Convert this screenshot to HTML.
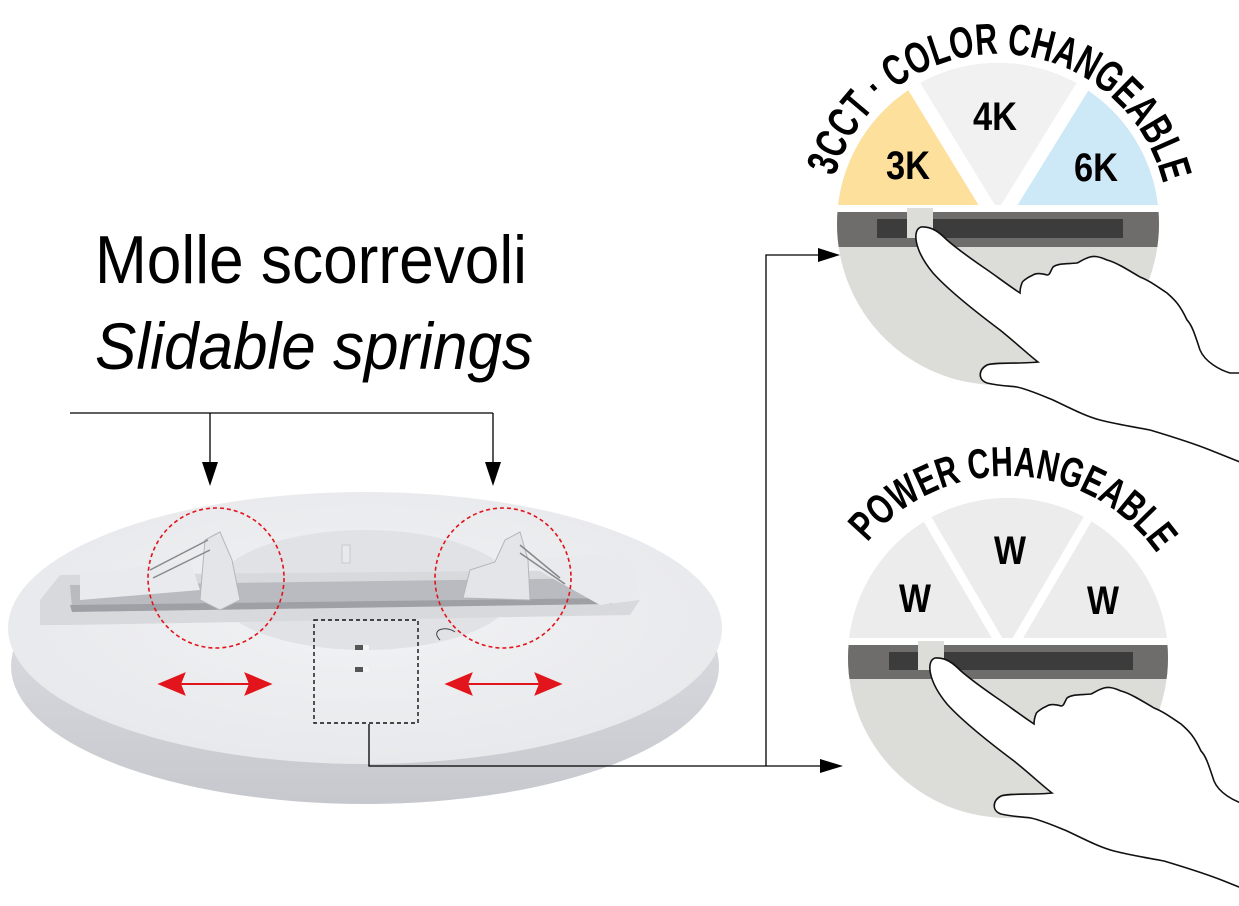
<!DOCTYPE html>
<html><head><meta charset="utf-8"><style>
html,body{margin:0;padding:0;background:#fff;}
svg{display:block;}
</style></head><body>
<svg width="1239" height="906" viewBox="0 0 1239 906" xmlns="http://www.w3.org/2000/svg">
<defs>
<linearGradient id="side" x1="0" y1="0" x2="0" y2="1">
<stop offset="0" stop-color="#e4e5e9"/><stop offset="1" stop-color="#c6c8ce"/></linearGradient>
<radialGradient id="top" cx="0.5" cy="0.45" r="0.6">
<stop offset="0" stop-color="#f1f2f4"/><stop offset="1" stop-color="#e7e8eb"/></radialGradient>
<clipPath id="c1"><circle cx="998" cy="224" r="161"/></clipPath>
<clipPath id="c2"><circle cx="1008" cy="658" r="160"/></clipPath>
<path id="arc1" d="M 828,224 A 170,170 0 0 1 1168,224"/>
<path id="arc2" d="M 826,658 A 182,182 0 0 1 1190,658"/>
<g id="hand">
<path d="M921,227 C912,230 914,250 933,273 C950,292 980,315 1000,330 C1015,342 1030,356 1038,362 C1020,364 995,362 987,365 C978,370 978,380 987,383 C1000,386 1010,386 1017,387 C1030,390 1043,396 1053,400 C1070,408 1085,416 1100,420 C1120,425 1135,427 1150,430 C1170,436 1190,442 1210,450 L1260,470 L1260,373 L1230,373 C1220,370 1205,362 1200,350 C1195,335 1192,325 1187,320 C1180,305 1175,300 1167,293 C1155,285 1148,280 1140,277 C1125,268 1115,262 1107,260 C1098,256 1094,256 1090,257 C1083,259 1080,262 1077,263 C1068,264 1058,263 1053,267 C1050,272 1050,275 1047,275 C1040,273 1036,273 1033,275 C1026,278 1022,282 1022,283 C1020,288 1020,292 1020,293 C1005,283 995,275 983,267 C970,258 955,247 947,240 C940,233 932,226 921,227 Z" fill="#fff" stroke="#111" stroke-width="1.6"/>
</g>
</defs>

<!-- Titles -->
<text x="95" y="283" font-family="Liberation Sans, sans-serif" font-size="68" textLength="432" lengthAdjust="spacingAndGlyphs" fill="#000">Molle scorrevoli</text>
<text x="95" y="369" font-family="Liberation Sans, sans-serif" font-style="italic" font-size="66" textLength="438" lengthAdjust="spacingAndGlyphs" fill="#000">Slidable springs</text>

<!-- lamp -->
<ellipse cx="365" cy="666" rx="354" ry="138" fill="url(#side)"/>
<ellipse cx="365" cy="628" rx="357" ry="136" fill="url(#top)"/>
<ellipse cx="365" cy="590" rx="150" ry="60" fill="#e1e2e6"/>
<g>
<path d="M40,600 L60,575 L630,570 L640,600 L630,615 L70,625 L40,625 Z" fill="#d8d9dd"/>
<path d="M70,585 L610,578 L612,600 L72,608 Z" fill="#b9bbc0"/>
<path d="M70,605 L612,598 L612,604 L72,612 Z" fill="#9ea0a6"/>
<path d="M80,575 L190,560 L200,590 L80,600 Z" fill="#e9eaee"/>
<path d="M520,560 L630,552 L640,600 L600,605 Z" fill="#e9eaee"/>
<path d="M200,600 L205,540 L220,532 L232,560 L240,600 L220,610 Z" fill="#e4e5e8" stroke="#b5b6ba" stroke-width="1"/>
<path d="M463,598 L470,570 L495,562 L505,540 L520,532 L528,560 L530,600 Z" fill="#e4e5e8" stroke="#b5b6ba" stroke-width="1"/>
<path d="M150,570 L208,540 M153,578 L210,550 M520,545 L560,578 M520,553 L565,584" stroke="#888" stroke-width="1.5" fill="none"/>
<rect x="342" y="545" width="8" height="18" fill="#e8e9ec" stroke="#c8c9cc"/>
</g>
<g fill="#555"><rect x="355" y="645" width="14" height="5"/><rect x="355" y="667" width="14" height="5"/></g>
<g fill="#f4f4f4"><rect x="363" y="645" width="6" height="5"/><rect x="363" y="667" width="6" height="5"/></g>
<path d="M440,640 C430,630 445,625 455,632" stroke="#444" fill="none" stroke-width="1"/>

<!-- pointer lines -->
<g stroke="#000" stroke-width="1.3" fill="none">
<path d="M70,413 H493 M210,413 V465 M493,413 V465"/>
<path d="M369,724 V766 H830 M766,766 V255 H818"/>
</g>
<g fill="#000">
<path d="M202,462 L218,462 L210,486 Z"/>
<path d="M485,462 L501,462 L493,486 Z"/>
<path d="M818,248 L840,255 L818,262 Z"/>
<path d="M820,759 L843,766 L820,773 Z"/>
</g>

<!-- red dashed ellipses -->
<g fill="none" stroke="#e2141c" stroke-width="1.6" stroke-dasharray="4,3">
<ellipse cx="216" cy="578" rx="68" ry="70"/>
<ellipse cx="503" cy="578" rx="68" ry="70"/>
</g>
<!-- red arrows -->
<g stroke="#e2141c" stroke-width="2" fill="#e2141c">
<line x1="175" y1="684" x2="255" y2="684"/>
<line x1="462" y1="684" x2="545" y2="684"/>
<path d="M160,684 L184,674 L180,684 L184,694 Z"/>
<path d="M270,684 L246,674 L250,684 L246,694 Z"/>
<path d="M447,684 L471,674 L467,684 L471,694 Z"/>
<path d="M560,684 L536,674 L540,684 L536,694 Z"/>
</g>
<!-- dashed box -->
<rect x="314" y="620" width="104" height="103" fill="none" stroke="#111" stroke-width="1.4" stroke-dasharray="4,3"/>

<!-- TOP DIAL -->
<g clip-path="url(#c1)">
<rect x="830" y="60" width="340" height="330" fill="#dcdcd8"/>
<rect x="830" y="60" width="340" height="145" fill="#f1f1f1"/>
<path d="M984,205 L895,60 L830,60 L830,205 Z" fill="#fde09c"/>
<path d="M1012,205 L1102,60 L1170,60 L1170,205 Z" fill="#cde8f7"/>
<path d="M991,212 L898,60 M1005,212 L1099,60" stroke="#fff" stroke-width="14"/>
<rect x="830" y="205" width="340" height="7" fill="#fff"/>
<rect x="830" y="212" width="340" height="35" fill="#6e6d6b"/>
<rect x="877" y="219" width="246" height="19" fill="#3c3c3c"/>
<rect x="907" y="208" width="26" height="30" fill="#dcdcd8"/>
</g>
<g font-family="Liberation Sans, sans-serif" font-weight="bold" font-size="40" fill="#000" text-anchor="middle">
<text x="908" y="179" textLength="44" lengthAdjust="spacingAndGlyphs">3K</text>
<text x="995" y="130" textLength="44" lengthAdjust="spacingAndGlyphs">4K</text>
<text x="1096" y="181" textLength="44" lengthAdjust="spacingAndGlyphs">6K</text>
</g>
<text font-family="Liberation Sans, sans-serif" font-weight="bold" font-size="44" fill="#000"><textPath href="#arc1" startOffset="48" textLength="445" lengthAdjust="spacingAndGlyphs">3CCT · COLOR CHANGEABLE</textPath></text>
<use href="#hand"/>

<!-- BOTTOM DIAL -->
<g clip-path="url(#c2)">
<rect x="840" y="490" width="340" height="340" fill="#dcdcd8"/>
<rect x="840" y="490" width="340" height="148" fill="#ebeceb"/>
<path d="M1000,643 L925,515 M1015,643 L1090,515" stroke="#fff" stroke-width="9"/>
<rect x="840" y="638" width="340" height="7" fill="#fff"/>
<rect x="840" y="645" width="340" height="34" fill="#6e6d6b"/>
<rect x="889" y="652" width="244" height="18" fill="#3c3c3c"/>
<rect x="918" y="641" width="26" height="29" fill="#dcdcd8"/>
</g>
<g font-family="Liberation Sans, sans-serif" font-weight="bold" font-size="40" fill="#000" text-anchor="middle">
<text x="915" y="612" textLength="32" lengthAdjust="spacingAndGlyphs">W</text>
<text x="1010" y="564" textLength="32" lengthAdjust="spacingAndGlyphs">W</text>
<text x="1103" y="614" textLength="32" lengthAdjust="spacingAndGlyphs">W</text>
</g>
<text font-family="Liberation Sans, sans-serif" font-weight="bold" font-size="42" fill="#000"><textPath href="#arc2" startOffset="125" textLength="335" lengthAdjust="spacingAndGlyphs">POWER CHANGEABLE</textPath></text>
<use href="#hand" transform="translate(14,431)"/>
</svg>
</body></html>
